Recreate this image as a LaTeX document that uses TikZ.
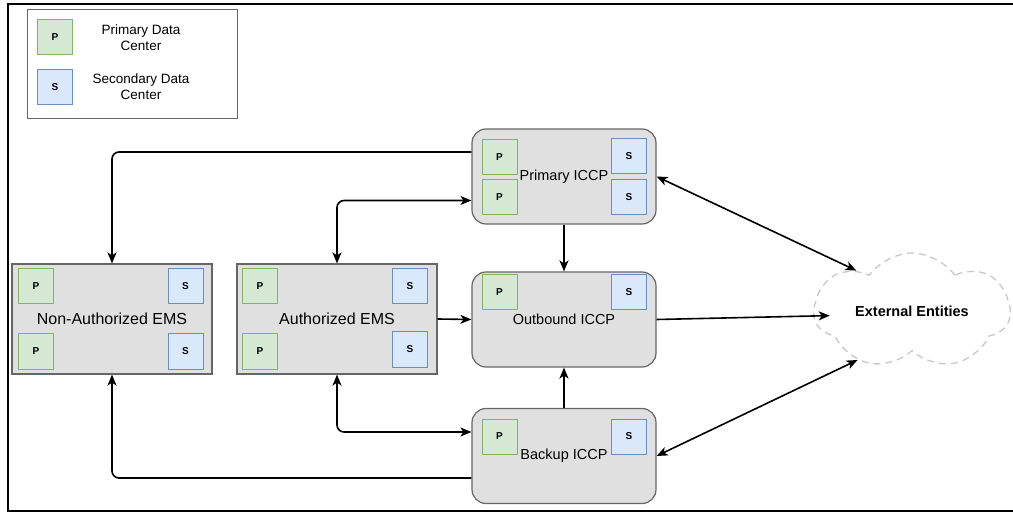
\documentclass[tikz,border=0pt]{standalone}
\usepackage{fontspec}
\setmainfont{Liberation Sans}
\usetikzlibrary{positioning,arrows.meta,shapes.symbols}
\definecolor{boxgray}{HTML}{E0E0E0}
\definecolor{edgegray}{HTML}{666666}
\definecolor{pfill}{HTML}{D5E8D4}
\definecolor{pdraw}{HTML}{82B366}
\definecolor{sfill}{HTML}{DAE8FC}
\definecolor{sdraw}{HTML}{6C8EBF}
\definecolor{cloudgray}{HTML}{C8C8C8}

\begin{document}
\begin{tikzpicture}[x=1pt,y=-1pt,>={Stealth[length=11pt,width=9pt,inset=3pt]},line width=1.6pt,
    ems/.style={draw=edgegray,fill=boxgray,line width=1.2pt,inner sep=0pt,minimum width=200pt,minimum height=110pt,font=\fontsize{16}{19}\selectfont},
    iccp/.style={ems,rounded corners=14pt,minimum width=184pt,minimum height=95pt,font=\fontsize{14.5}{17}\selectfont},
    pbox/.style={draw=pdraw,fill=pfill,line width=1pt,minimum size=35pt,inner sep=0pt,font=\bfseries\fontsize{10}{12}\selectfont},
    sbox/.style={pbox,draw=sdraw,fill=sfill},
    legtext/.style={align=center,inner sep=0pt,font=\fontsize{13.5}{16}\selectfont}]
\useasboundingbox (0,0) rectangle (1013,513);

% frame
\draw[line width=2pt] (1013,4.5) -- (8,4.5) -- (8,510.5) -- (1013,510.5);

% legend
\node[draw=edgegray,line width=1pt,minimum width=210pt,minimum height=109pt] (legend) at (132,64.5) {};
\node[pbox] (lp) at (55,37.5) {P};
\node[legtext] (lpt) at (141,37.5) {Primary Data\\Center};
\node[sbox] (ls) at (55,87) {S};
\node[legtext] (lst) at (141,87) {Secondary Data\\Center};

% main boxes
\node[ems] (nauth) at (112,319) {Non-Authorized EMS};
\node[ems] (auth) at (337,319) {Authorized EMS};
\node[iccp] (pri) at (564,176.5) {Primary ICCP};
\node[iccp] (out) at (564,319.5) {Outbound ICCP};
\node[iccp] (bak) at (564,456) {Backup ICCP};
\node[cloud,cloud puffs=7,cloud puff arc=110,draw=cloudgray,line width=1.3pt,dash pattern=on 7pt off 5pt,aspect=1.9,inner sep=0pt,
      minimum width=196pt,minimum height=116pt,font=\bfseries\fontsize{14.5}{17}\selectfont] (ext) at (912,311) {External Entities};

% data center boxes
\node[pbox] (nauth-p1) at (36,286.5) {P};
\node[pbox] (nauth-p2) at (36,351.5) {P};
\node[sbox] (nauth-s1) at (185.5,286.5) {S};
\node[sbox] (nauth-s2) at (185.5,351.5) {S};
\node[pbox] (auth-p1) at (260,286.5) {P};
\node[pbox] (auth-p2) at (260,351.5) {P};
\node[sbox] (auth-s1) at (410,286.5) {S};
\node[sbox] (auth-s2) at (410,349.5) {S};
\node[pbox] (pri-p1) at (499.5,157) {P};
\node[pbox] (pri-p2) at (499.5,197) {P};
\node[sbox] (pri-s1) at (629,156.5) {S};
\node[sbox] (pri-s2) at (629,197) {S};
\node[pbox] (out-p) at (499.5,292) {P};
\node[sbox] (out-s) at (629,292) {S};
\node[pbox] (bak-p) at (499.5,436.5) {P};
\node[sbox] (bak-s) at (629,436.5) {S};

% links
\begin{scope}[rounded corners=7pt]
\draw[->] ([yshift=24.5pt]pri.west) -| (nauth.north);
\draw[<->] (auth.north) |- ([yshift=-24pt]pri.west);
\draw[<->] (auth.south) |- ([yshift=24pt]bak.west);
\draw[->] ([yshift=-22pt]bak.west) -| (nauth.south);
\end{scope}
\draw[->] (auth.east) -- (out.west);
\draw[->] (pri.south) -- (out.north);
\draw[->] (bak.north) -- (out.south);
\draw[->,shorten >=-17pt] (out.east) -- ([yshift=-5pt]ext.west);
\draw[<->] (pri.east) -- (ext.144);
\draw[<->] (bak.east) -- (ext.222);
\end{tikzpicture}
\end{document}
